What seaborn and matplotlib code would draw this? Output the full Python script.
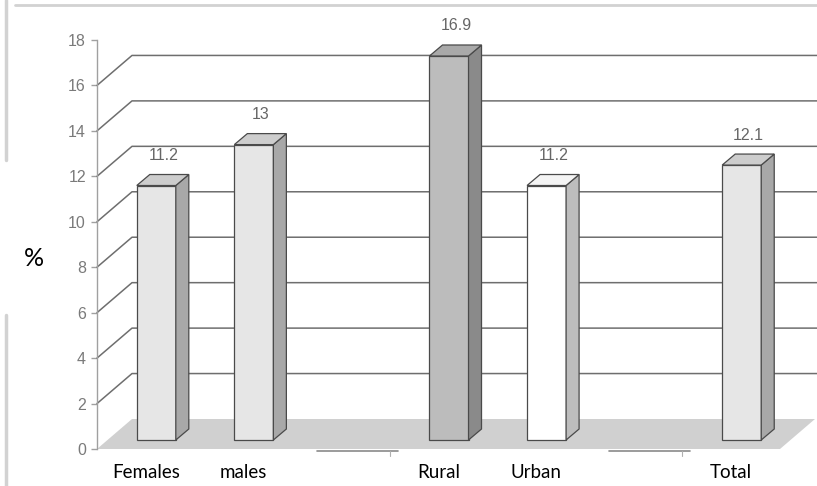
import numpy as np
import pandas as pd
import matplotlib
matplotlib.use("Agg")
import matplotlib.pyplot as plt
from matplotlib.patches import Polygon
from matplotlib.lines import Line2D
from matplotlib.transforms import IdentityTransform, ScaledTranslation
import seaborn as sns

# ---- data -------------------------------------------------------------
groups = ["Females", "males", "", "Rural", "Urban", " ", "Total"]
values = [11.2, 13.0, None, 16.9, 11.2, None, 12.1]
y_ticks = [0, 2, 4, 6, 8, 10, 12, 14, 16, 18]

# ---- styling ----------------------------------------------------------
front_col = {"Females": "#e6e6e6", "males": "#e6e6e6", "Rural": "#bcbcbc",
             "Urban": "#ffffff", "Total": "#e6e6e6"}
side_col = {"Females": "#a8a8a8", "males": "#a8a8a8", "Rural": "#8a8a8a",
            "Urban": "#bdbdbd", "Total": "#a8a8a8"}
top_col = {"Females": "#cdcdcd", "males": "#cdcdcd", "Rural": "#a9a9a9",
           "Urban": "#f4f4f4", "Total": "#cdcdcd"}
edge = "#4a4a4a"
grid_col = "#6e6e6e"
W, H, DPI = 817, 486, 100

# depth offsets in pixels: whole plot box, bar front plane, bar thickness
BOX_D = (35, 30)
BAR_OFF = (10.5, 9)
BAR_D = (13, 11)

sns.set_theme(style="white")
plt.rcParams["font.family"] = ["Lato", "DejaVu Sans"]
narrow = ["Liberation Sans Narrow", "Liberation Sans", "DejaVu Sans"]

fig = plt.figure(figsize=(W / DPI, H / DPI), dpi=DPI)
ax = fig.add_axes([97 / W, (H - 449) / H, 683 / W, 409 / H])
ax.set_facecolor("none")

df = pd.DataFrame({"group": [g for g, v in zip(groups, values) if v is not None],
                   "pct": [v for v in values if v is not None]})

sns.barplot(data=df, x="group", y="pct", hue="group", order=groups,
            hue_order=list(df["group"]), palette=front_col, width=0.40,
            saturation=1, edgecolor=edge, linewidth=0.9, errorbar=None,
            legend=False, ax=ax, zorder=3)

ax.set_xlim(-0.5, len(groups) - 0.5)
ax.set_ylim(0, 18)
T = ax.transData
ident = IdentityTransform()


def px(x, y, d=(0, 0)):
    p = T.transform((x, y))
    return (p[0] + d[0], p[1] + d[1])


def add(d1, d2):
    return (d1[0] + d2[0], d1[1] + d2[1])


# floor of the box
x_lo, x_hi = ax.get_xlim()
floor = Polygon([px(x_lo, 0), px(x_hi, 0), px(x_hi, 0, BOX_D), px(x_lo, 0, BOX_D)],
                closed=True, transform=ident, facecolor="#d0d0d0",
                edgecolor="none", zorder=1, clip_on=False)
ax.add_patch(floor)

# back-wall grid lines with the slanted lead-in from the value axis
for v in y_ticks[1:-1]:
    f = px(x_lo, v)
    b = px(x_lo, v, BOX_D)
    ax.add_line(Line2D([f[0], b[0], W], [f[1], b[1], b[1]], transform=ident,
                       color=grid_col, lw=1.1, zorder=1.5, clip_on=False))

# bars: shift front faces into the box and add side / top faces
off = ScaledTranslation(BAR_OFF[0] / DPI, BAR_OFF[1] / DPI, fig.dpi_scale_trans)
for patch in list(ax.patches):
    if patch is floor:
        continue
    x0, w, h = patch.get_x(), patch.get_width(), patch.get_height()
    if not np.isfinite(h):
        continue
    name = groups[int(round(x0 + w / 2))]
    patch.set_transform(T + off)
    x1 = x0 + w
    side = [px(x1, 0, BAR_OFF), px(x1, h, BAR_OFF),
            px(x1, h, add(BAR_OFF, BAR_D)), px(x1, 0, add(BAR_OFF, BAR_D))]
    top = [px(x0, h, BAR_OFF), px(x1, h, BAR_OFF),
           px(x1, h, add(BAR_OFF, BAR_D)), px(x0, h, add(BAR_OFF, BAR_D))]
    ax.add_patch(Polygon(side, closed=True, transform=ident, facecolor=side_col[name],
                         edgecolor=edge, lw=0.9, zorder=3, clip_on=False))
    ax.add_patch(Polygon(top, closed=True, transform=ident, facecolor=top_col[name],
                         edgecolor=edge, lw=0.9, zorder=3, clip_on=False))
    ax.annotate(f"{h:g}", xy=(x0 + w / 2, h), xycoords="data",
                xytext=(BAR_OFF[0] + 7, BAR_OFF[1] + 30), textcoords="offset pixels",
                ha="center", va="center", fontsize=11.5, color="#666666",
                family=narrow, annotation_clip=False)

# remnants of the category axis line under the empty slots
for i, g in enumerate(groups):
    if g.strip() == "":
        a = px(i - 0.25, 0, (0, -2))
        b = px(i + 0.58, 0, (0, -2))
        t = px(i + 0.5, 0, (0, -2))
        ax.add_line(Line2D([a[0], b[0]], [a[1], b[1]], transform=ident,
                           color="#8a8a8a", lw=1.2, clip_on=False))
        ax.add_line(Line2D([t[0], t[0]], [t[1], t[1] - 5], transform=ident,
                           color="#b0b0b0", lw=0.8, clip_on=False))

# axes cosmetics
for s in ["top", "right", "bottom"]:
    ax.spines[s].set_visible(False)
ax.spines["left"].set_color("#a0a0a0")
ax.spines["left"].set_linewidth(1.0)
ax.set_yticks(y_ticks)
ax.set_yticklabels([str(t) for t in y_ticks], family=narrow)
ax.tick_params(axis="y", direction="out", length=4, width=1, color="#a0a0a0",
               labelcolor="#7a7a7a", labelsize=11.5, pad=4, left=True)
ax.set_xticks(range(len(groups)))
ax.set_xticklabels(groups)
ax.tick_params(axis="x", length=0, labelsize=13.5, labelcolor="black", pad=11)
ax.set_xlabel("")
ax.set_ylabel("")
ax.grid(False)

fig.text(34 / W, 1 - 258 / H, "%", fontsize=18, ha="center", va="center", color="black")

# faint frame left by the scanned page
fig.add_artist(Line2D([15 / W, 1], [1 - 5 / H, 1 - 5 / H], transform=fig.transFigure,
                      color="#d2d2d2", lw=2))
fig.add_artist(Line2D([6 / W, 6 / W], [1, 1 - 160 / H], transform=fig.transFigure,
                      color="#d2d2d2", lw=2.5))
fig.add_artist(Line2D([6 / W, 6 / W], [1 - 315 / H, 0], transform=fig.transFigure,
                      color="#d2d2d2", lw=2.5))

fig.savefig("out.png", dpi=DPI, facecolor="white")
